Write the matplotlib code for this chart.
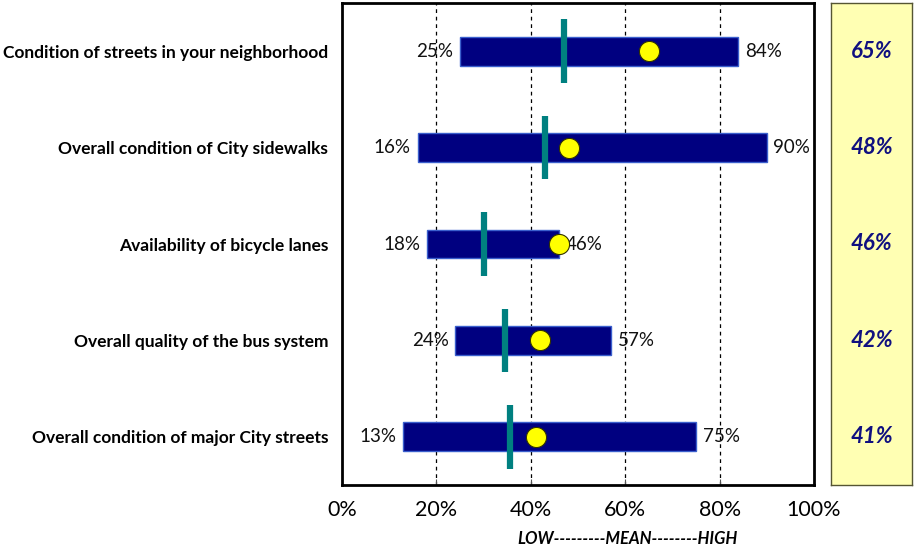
import matplotlib
matplotlib.use("Agg")
import matplotlib.pyplot as plt
from matplotlib.ticker import FixedLocator, FuncFormatter

# Survey items (top to bottom)
categories = [
    "Condition of streets in your neighborhood",
    "Overall condition of City sidewalks",
    "Availability of bicycle lanes",
    "Overall quality of the bus system",
    "Overall condition of major City streets",
]
low_values = [25, 16, 18, 24, 13]
high_values = [84, 90, 46, 57, 75]
mean_values = [65, 48, 46, 42, 41]
benchmark_values = [47, 43, 30, 34.5, 35.5]
tick_values = [0, 20, 40, 60, 80, 100]

plt.rcParams["font.family"] = ["Lato", "DejaVu Sans"]

fig = plt.figure(figsize=(9.14, 5.51), dpi=100)
ax = fig.add_axes([342 / 914, 1 - 485 / 551, 472 / 914, 482 / 551])

n = len(categories)
ypos = list(range(1, n + 1))

bar_h = 0.30
for y, lo, hi, mu, bm in zip(ypos, low_values, high_values, mean_values, benchmark_values):
    ax.barh(y, hi - lo, left=lo, height=bar_h, color="#000080",
            edgecolor="#3a5fcd", linewidth=1.0, zorder=3)
    ax.plot([bm, bm], [y - 0.33, y + 0.33], color="#008080", linewidth=4.5,
            solid_capstyle="butt", zorder=4)
    ax.plot([mu], [y], marker="o", markersize=14.5, markerfacecolor="#ffff00",
            markeredgecolor="#333300", markeredgewidth=0.8, zorder=5)
    ax.text(lo - 1.4, y, f"{lo}%", ha="right", va="center", fontsize=13.5, color="#111111")
    ax.text(hi + 1.4, y, f"{hi}%", ha="left", va="center", fontsize=13.5, color="#111111")

ax.set_xlim(0, 100)
ax.set_ylim(n + 0.5, 0.5)
ax.xaxis.set_major_locator(FixedLocator(tick_values))
ax.xaxis.set_major_formatter(FuncFormatter(lambda v, p: f"{v:.0f}%"))
ax.tick_params(axis="x", direction="in", length=4, labelsize=15.5, pad=11, color="#555555")
ax.set_yticks(ypos)
ax.set_yticklabels(categories, fontsize=12.5, fontweight="bold")
ax.tick_params(axis="y", length=0, pad=10)

for g in tick_values[1:-1]:
    ax.axvline(g, color="black", linestyle=(0, (3, 3)), linewidth=0.9, zorder=1)

for s in ax.spines.values():
    s.set_linewidth(2)
    s.set_color("black")

fig.text(627 / 914, 1 - 539 / 551, "LOW---------MEAN--------HIGH", ha="center", va="center",
         fontsize=12, fontweight="bold", fontstyle="italic", color="black")

# Mean value panel
pax = fig.add_axes([831 / 914, 1 - 485 / 551, 81 / 914, 482 / 551])
pax.set_facecolor("#ffffb3")
pax.set_xlim(0, 1)
pax.set_ylim(n + 0.5, 0.5)
pax.set_xticks([])
pax.set_yticks([])
for s in pax.spines.values():
    s.set_linewidth(1.0)
    s.set_color("#555533")
for y, mu in zip(ypos, mean_values):
    pax.text(0.5, y, f"{mu}%", ha="center", va="center", fontsize=16,
             fontweight="bold", fontstyle="italic", color="#101080")

fig.savefig("out.png", dpi=100)
